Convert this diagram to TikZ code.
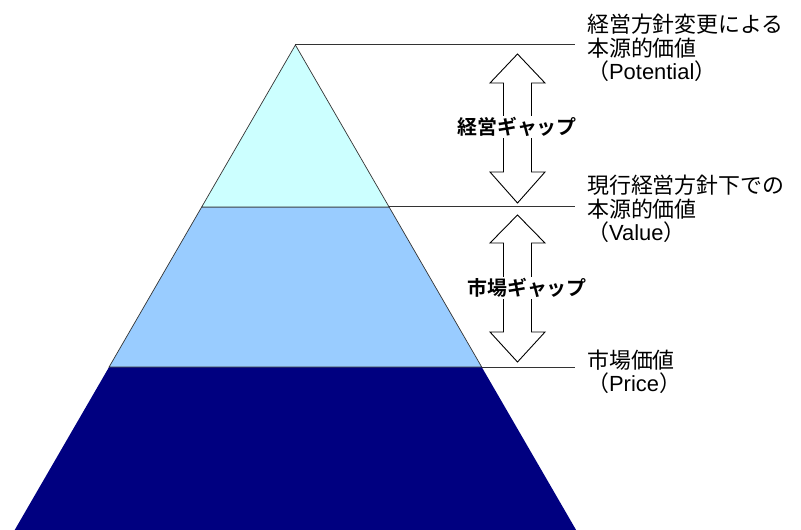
\documentclass[tikz,border=0pt]{standalone}
\usepackage{fontspec}
\newfontfamily\jp{Noto Sans CJK JP}[BoldFont={Noto Sans CJK JP Bold}]
\newfontfamily\lat{Liberation Sans}
\definecolor{topc}{HTML}{CCFFFF}
\definecolor{midc}{HTML}{99CCFF}
\definecolor{botc}{HTML}{000080}
\definecolor{edge}{HTML}{333333}
\tikzset{
  leader/.style={draw=black!80, line width=1bp},
  sidetext/.style={font=\jp\fontsize{22}{23.5}\selectfont, align=left, anchor=west, inner sep=0pt},
  gaplabel/.style={font=\jp\bfseries\fontsize{20}{22}\selectfont, fill=white, inner sep=1pt},
  hollowarrow/.style={draw=black, line width=0.9bp, fill=white, line join=miter},
}
\begin{document}
\begin{tikzpicture}[x=1bp,y=-1bp]
\useasboundingbox (0,0) rectangle (801,530);
% pyramid key points
\coordinate (apex) at (295.4,45);
\coordinate (l1) at (201.7,207);
\coordinate (r1) at (389.1,207);
\coordinate (l2) at (109.1,367);
\coordinate (r2) at (481.7,367);
\coordinate (l3) at (14.7,530);
\coordinate (r3) at (576.1,530);
% bands
\fill[botc] (l2) -- (r2) -- (r3) -- (l3) -- cycle;
\filldraw[fill=midc, draw=edge, line width=0.7bp] (l1) -- (r1) -- (r2) -- (l2) -- cycle;
\filldraw[fill=topc, draw=edge, line width=0.7bp] (apex) -- (r1) -- (l1) -- cycle;
% right texts
\node[sidetext] (t1) at (587,48) {経営方針変更による\\本源的価値\\（{\lat Potential}）};
\node[sidetext] (t2) at (587,209) {現行経営方針下での\\本源的価値\\（{\lat Value}）};
\node[sidetext] (t3) at (587,371.5) {市場価値\\（{\lat Price}）};
% leader lines
\coordinate (e1) at (575,45);
\coordinate (e2) at (575,207);
\coordinate (e3) at (575,367);
\draw[leader] (apex) -- (e1);
\draw[leader] (r1) -- (e2);
\draw[leader] (r2) -- (e3);
% gap arrow 1
\draw[hollowarrow] (517.5,54) -- (545,83) -- (531.5,83) -- (531.5,172) -- (545,172) -- (517.5,203)
  -- (490,172) -- (503.5,172) -- (503.5,83) -- (490,83) -- cycle;
\node[gaplabel] (g1) at (517,127) {経営ギャップ};
% gap arrow 2
\draw[hollowarrow] (517.5,215) -- (545,243) -- (531.5,243) -- (531.5,332) -- (545,332) -- (517.5,362)
  -- (490,332) -- (503.5,332) -- (503.5,243) -- (490,243) -- cycle;
\node[gaplabel] (g2) at (527,288) {市場ギャップ};
\end{tikzpicture}
\end{document}
